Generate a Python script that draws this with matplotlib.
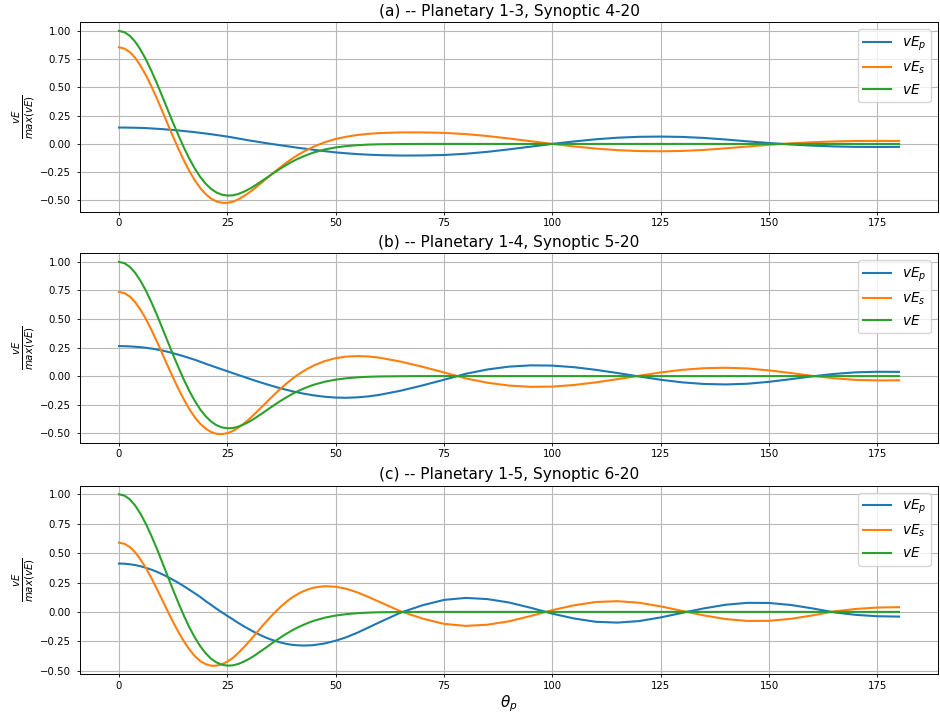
import matplotlib
matplotlib.use("Agg")
import matplotlib.pyplot as plt
from matplotlib.ticker import MultipleLocator

# ---------------- data ----------------
theta = [0, 1.25, 2.5, 3.75, 5, 6.25, 7.5, 8.75, 10, 11.25, 12.5, 13.75, 15, 16.25,
         17.5, 18.75, 20, 21.25, 22.5, 23.75, 25, 26.25, 27.5, 28.75, 30, 31.25,
         32.5, 33.75, 35, 36.25, 37.5, 38.75, 40, 41.25, 42.5, 43.75, 45,
         47.5, 50, 52.5, 55, 57.5, 60,
         65, 70, 75, 80, 85, 90, 95, 100, 105, 110, 115, 120, 125, 130, 135,
         140, 145, 150, 155, 160, 165, 170, 175, 180]

# total vE (same curve in every panel)
ve_total = [1.000, 0.989, 0.957, 0.904, 0.832, 0.745, 0.645, 0.536, 0.420, 0.302,
            0.185, 0.073, -0.034, -0.132, -0.218, -0.292, -0.352, -0.398, -0.430, -0.449,
            -0.457, -0.455, -0.443, -0.424, -0.400, -0.372, -0.340, -0.308, -0.275, -0.243,
            -0.212, -0.183, -0.156, -0.132, -0.111, -0.092, -0.075,
            -0.049, -0.031, -0.019, -0.011, -0.006, -0.003,
            -0.001, 0.0, 0.0, 0.0, 0.0, 0.0, 0.0, 0.0, 0.0, 0.0, 0.0, 0.0, 0.0, 0.0, 0.0,
            0.0, 0.0, 0.0, 0.0, 0.0, 0.0, 0.0, 0.0, 0.0]

# (a) Planetary 1-3, Synoptic 4-20
vep_a = [0.145, 0.145, 0.144, 0.143, 0.142, 0.140, 0.137, 0.134, 0.131, 0.127,
         0.123, 0.119, 0.114, 0.109, 0.104, 0.098, 0.092, 0.086, 0.079, 0.072,
         0.065, 0.057, 0.048, 0.040, 0.031, 0.024, 0.016, 0.008, 0.001, -0.006,
         -0.013, -0.020, -0.027, -0.034, -0.040, -0.046, -0.052,
         -0.064, -0.075, -0.083, -0.090, -0.095, -0.099,
         -0.103, -0.102, -0.098, -0.087, -0.070, -0.048, -0.024, 0.000, 0.022, 0.041,
         0.055, 0.063, 0.065, 0.062, 0.053, 0.039, 0.023, 0.008, -0.005, -0.015,
         -0.022, -0.026, -0.027, -0.026]
ves_a = [0.855, 0.844, 0.813, 0.761, 0.690, 0.605, 0.508, 0.402, 0.289, 0.175,
         0.062, -0.046, -0.148, -0.241, -0.322, -0.390, -0.444, -0.484, -0.509, -0.521,
         -0.522, -0.512, -0.491, -0.464, -0.431, -0.396, -0.356, -0.316, -0.276, -0.237,
         -0.199, -0.163, -0.129, -0.098, -0.071, -0.046, -0.023,
         0.015, 0.044, 0.064, 0.079, 0.089, 0.096,
         0.102, 0.102, 0.098, 0.087, 0.070, 0.048, 0.024, 0.000, -0.022, -0.041,
         -0.055, -0.063, -0.065, -0.062, -0.053, -0.039, -0.023, -0.008, 0.005, 0.015,
         0.022, 0.026, 0.027, 0.026]

# (b) Planetary 1-4, Synoptic 5-20
vep_b = [0.263, 0.262, 0.260, 0.257, 0.253, 0.248, 0.241, 0.233, 0.224, 0.213,
         0.200, 0.187, 0.173, 0.158, 0.143, 0.126, 0.108, 0.092, 0.075, 0.059,
         0.043, 0.026, 0.010, -0.006, -0.022, -0.038, -0.053, -0.068, -0.082, -0.096,
         -0.109, -0.121, -0.133, -0.143, -0.153, -0.161, -0.169,
         -0.181, -0.188, -0.190, -0.186, -0.178, -0.165,
         -0.128, -0.082, -0.032, 0.020, 0.058, 0.083, 0.094, 0.092, 0.078, 0.055,
         0.027, -0.003, -0.032, -0.055, -0.069, -0.073, -0.067, -0.050, -0.027, -0.002,
         0.019, 0.033, 0.038, 0.037]
ves_b = [0.737, 0.727, 0.697, 0.647, 0.579, 0.497, 0.404, 0.303, 0.196, 0.089,
         -0.015, -0.114, -0.207, -0.290, -0.361, -0.418, -0.460, -0.490, -0.505, -0.508,
         -0.500, -0.481, -0.453, -0.418, -0.378, -0.334, -0.287, -0.240, -0.193, -0.147,
         -0.103, -0.062, -0.023, 0.011, 0.042, 0.069, 0.094,
         0.132, 0.157, 0.171, 0.175, 0.172, 0.162,
         0.127, 0.082, 0.032, -0.020, -0.058, -0.083, -0.094, -0.092, -0.078, -0.055,
         -0.027, 0.003, 0.032, 0.055, 0.069, 0.073, 0.067, 0.050, 0.027, 0.002,
         -0.019, -0.033, -0.038, -0.037]

# (c) Planetary 1-5, Synoptic 6-20
vep_c = [0.411, 0.410, 0.405, 0.398, 0.388, 0.374, 0.359, 0.341, 0.320, 0.297,
         0.272, 0.246, 0.218, 0.188, 0.158, 0.127, 0.092, 0.060, 0.027, -0.004,
         -0.034, -0.063, -0.093, -0.121, -0.147, -0.172, -0.195, -0.216, -0.234, -0.249,
         -0.262, -0.273, -0.280, -0.284, -0.286, -0.285, -0.282,
         -0.268, -0.245, -0.215, -0.177, -0.134, -0.090,
         -0.006, 0.056, 0.102, 0.119, 0.109, 0.080, 0.035, -0.015, -0.056, -0.084,
         -0.091, -0.078, -0.047, -0.008, 0.030, 0.061, 0.077, 0.076, 0.059, 0.030,
         -0.004, -0.025, -0.037, -0.040]
ves_c = [0.589, 0.579, 0.552, 0.506, 0.444, 0.371, 0.286, 0.195, 0.100, 0.005,
         -0.087, -0.173, -0.252, -0.320, -0.376, -0.419, -0.444, -0.458, -0.457, -0.445,
         -0.423, -0.392, -0.350, -0.303, -0.253, -0.200, -0.145, -0.092, -0.041, 0.006,
         0.050, 0.090, 0.124, 0.152, 0.175, 0.193, 0.207,
         0.219, 0.214, 0.196, 0.166, 0.128, 0.087,
         0.005, -0.056, -0.102, -0.119, -0.109, -0.080, -0.035, 0.015, 0.056, 0.084,
         0.091, 0.078, 0.047, 0.008, -0.030, -0.061, -0.077, -0.076, -0.059, -0.030,
         0.004, 0.025, 0.037, 0.040]

titles = ["(a) -- Planetary 1-3, Synoptic 4-20",
          "(b) -- Planetary 1-4, Synoptic 5-20",
          "(c) -- Planetary 1-5, Synoptic 6-20"]
labels = [r"$vE_p$", r"$vE_s$", r"$vE$"]
panels = [(vep_a, ves_a), (vep_b, ves_b), (vep_c, ves_c)]
xticks = [0, 25, 50, 75, 100, 125, 150, 175]

# ---------------- figure ----------------
fig = plt.figure(figsize=(9.4, 7.16), dpi=100)
rects = [[0.0851, 0.7046, 0.9128, 0.2642],
         [0.0851, 0.3817, 0.9128, 0.2645],
         [0.0851, 0.0582, 0.9128, 0.2634]]

for i, (rect, (vp, vs)) in enumerate(zip(rects, panels)):
    ax = fig.add_axes(rect)
    ax.plot(theta, vp, color="#1f77b4", lw=1.5, label=labels[0])
    ax.plot(theta, vs, color="#ff7f0e", lw=1.5, label=labels[1])
    ax.plot(theta, ve_total, color="#2ca02c", lw=1.5, label=labels[2])
    ax.set_xticks(xticks)
    ax.yaxis.set_major_locator(MultipleLocator(0.25))
    ax.grid(True, color="#b8b8b8", lw=0.8)
    ax.set_axisbelow(True)
    ax.tick_params(axis="both", labelsize=7.3, length=2.5, width=0.6)
    ax.tick_params(axis="x", pad=2.3)
    ax.tick_params(axis="y", pad=4.0)
    for sp in ax.spines.values():
        sp.set_linewidth(0.7)
    ax.set_title(titles[i], fontsize=11.1, pad=4.5)
    ax.set_ylabel(r"$\frac{vE}{max(vE)}$", fontsize=10.5, labelpad=2)
    ax.legend(loc="upper right", fontsize=9.8)
    if i == 2:
        ax.set_xlabel(r"$\theta_p$", fontsize=11, labelpad=2)

fig.savefig("out.png", dpi=100)
